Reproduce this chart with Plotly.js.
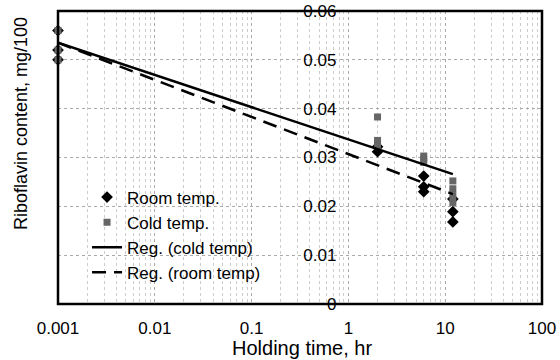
<!DOCTYPE html>
<html>
<head>
<meta charset="utf-8">
<script src="https://cdn.plot.ly/plotly-3.0.1.min.js"></script>
<style>html,body{margin:0;padding:0;background:#fff;}#chart{width:560px;height:360px;}</style>
</head>
<body>
<div id="chart"></div>
<script>
// Data
const roomX = [0.001, 0.001, 0.001, 2, 2, 6, 6, 6, 12, 12, 12];
const roomY = [0.056, 0.052, 0.050, 0.0312, 0.0322, 0.0262, 0.0240, 0.0230, 0.0215, 0.0189, 0.0168];
const coldX = [0.001, 0.001, 0.001, 2, 2, 2, 6, 6, 6, 12, 12, 12, 12];
const coldY = [0.056, 0.052, 0.050, 0.0383, 0.0335, 0.0325, 0.0303, 0.0297, 0.0290, 0.0252, 0.0236, 0.0222, 0.0208];
const regColdX = [0.001, 12];
const regColdY = [0.0535, 0.0266];
const regRoomX = [0.001, 12];
const regRoomY = [0.0535, 0.0225];
const xTickVals = [0.001, 0.01, 0.1, 1, 10, 100];
const xTickText = ['0.001', '0.01', '0.1', '1', '10', '100'];
const yTickVals = [0, 0.01, 0.02, 0.03, 0.04, 0.05, 0.06];
const yTickText = ['0', '0.01', '0.02', '0.03', '0.04', '0.05', '0.06'];

const font = 'Liberation Sans, Arial, sans-serif';

const traces = [
  {x: roomX, y: roomY, type: 'scatter', mode: 'markers', name: 'Room temp.',
   marker: {symbol: 'diamond', size: 9, color: '#000'}, cliponaxis: false},
  {x: coldX, y: coldY, type: 'scatter', mode: 'markers', name: 'Cold temp.',
   marker: {symbol: 'square', size: 7, color: '#666'}, cliponaxis: false},
  {x: regColdX, y: regColdY, type: 'scatter', mode: 'lines', name: 'Reg. (cold temp)',
   line: {color: '#000', width: 2.5}},
  {x: regRoomX, y: regRoomY, type: 'scatter', mode: 'lines', name: 'Reg. (room temp)',
   line: {color: '#000', width: 2.5, dash: '14px,8px'}}
];

const layout = {
  width: 560, height: 360,
  margin: {l: 58, r: 18, t: 11, b: 56},
  paper_bgcolor: '#fff', plot_bgcolor: '#fff',
  font: {family: font, size: 17, color: '#000'},
  showlegend: true,
  legend: {x: 0.06, y: 0.425, xanchor: 'left', yanchor: 'top', bgcolor: 'rgba(0,0,0,0)',
           font: {family: font, size: 17, color: '#000'}, tracegroupgap: 0, itemwidth: 30},
  xaxis: {type: 'log', range: [-3, 2], domain: [0, 1],
          tickvals: xTickVals, ticktext: xTickText, ticks: '',
          ticklabelstandoff: 12,
          showgrid: true, gridcolor: '#aaa', griddash: 'dot', gridwidth: 1,
          minor: {showgrid: true, gridcolor: '#ccc', griddash: 'dot', dtick: 'D1'},
          showline: false, zeroline: false,
          tickfont: {family: font, size: 17, color: '#000'}},
  yaxis: {range: [0, 0.06], anchor: 'free', position: 0.6,
          tickvals: yTickVals, ticktext: yTickText, ticks: '',
          ticklabelstandoff: 12,
          showgrid: true, gridcolor: '#aaa', griddash: 'dot', gridwidth: 1,
          showline: false, zeroline: false,
          tickfont: {family: font, size: 17, color: '#000'}},
  shapes: [
    {type: 'rect', xref: 'paper', yref: 'paper', x0: 0, x1: 1, y0: 0, y1: 1,
     line: {color: '#000', width: 2.5}, layer: 'above'}
  ],
  annotations: [
    {text: 'Riboflavin content, mg/100', xref: 'paper', yref: 'paper', x: 0, y: 0.614,
     xshift: -37, xanchor: 'center', yanchor: 'middle', textangle: -90, showarrow: false,
     font: {family: font, size: 18, color: '#000'}},
    {text: 'Holding time, hr', xref: 'paper', yref: 'paper', x: 0.504, y: 0,
     yshift: -44, xanchor: 'center', yanchor: 'middle', showarrow: false,
     font: {family: font, size: 20, color: '#000'}}
  ]
};

Plotly.newPlot('chart', traces, layout, {displayModeBar: false, staticPlot: true});
</script>
</body>
</html>
